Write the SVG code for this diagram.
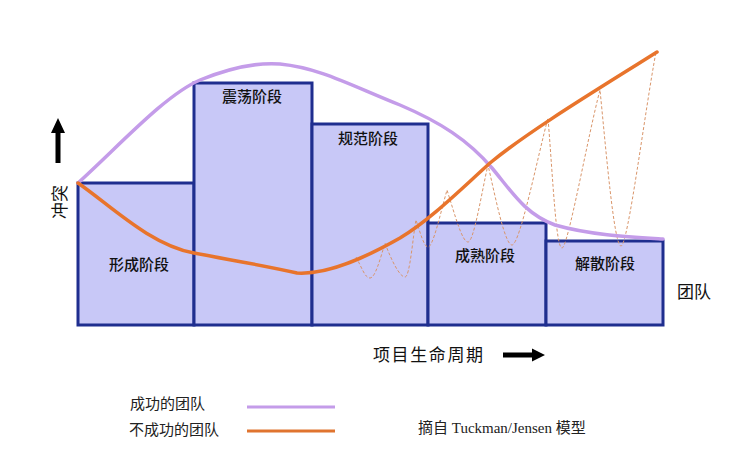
<svg xmlns="http://www.w3.org/2000/svg" width="755" height="454" viewBox="0 0 755 454">
<defs>
<style>
.stage{fill:#c8c8f7;stroke:#1f2e8f;stroke-width:3}
.lbl{font-family:"Noto Sans CJK SC","Liberation Sans",sans-serif;font-size:15px;font-weight:500;fill:#111;text-anchor:middle}
.big{font-family:"Noto Sans CJK SC","Liberation Sans",sans-serif;font-size:17px;fill:#111}
.ser{font-family:"Liberation Serif","Noto Sans CJK SC",serif;font-size:15px;fill:#222}
.ok{fill:none;stroke:#c49ce9;stroke-width:3.5;stroke-linecap:round}
.bad{fill:none;stroke:#e8742c;stroke-width:3.5;stroke-linecap:round}
.zig{fill:none;stroke:#d9956a;stroke-width:1;stroke-dasharray:3 2}
</style>
</defs>
<rect width="755" height="454" fill="#ffffff"/>
<g id="stage-forming"><rect class="stage" x="78" y="183" width="116" height="142"/><text class="lbl" x="139" y="270">形成阶段</text></g>
<g id="stage-storming"><rect class="stage" x="194" y="83" width="118" height="242"/><text class="lbl" x="252" y="102">震荡阶段</text></g>
<g id="stage-norming"><rect class="stage" x="312" y="124" width="116" height="201"/><text class="lbl" x="368" y="144">规范阶段</text></g>
<g id="stage-performing"><rect class="stage" x="428" y="223" width="118" height="102"/><text class="lbl" x="485" y="261">成熟阶段</text></g>
<g id="stage-adjourning"><rect class="stage" x="546" y="241" width="117" height="84"/><text class="lbl" x="605" y="269">解散阶段</text></g>
<g id="connectors">
<path class="zig" d="M356,257 C362,268 365,278 370,278 C375,278 380,260 385,243 C392,262 400,277 405,277 C410,277 413,235 416,220 C420,232 424,247 428,247 C433,247 440,215 447,190 C455,215 462,242 468,242 C474,242 482,190 488,165 C496,200 505,245 512,245 C520,245 538,155 548,118 C553,180 556,248 562,248 C568,248 588,135 600,90 C606,150 614,246 621,246 C628,246 645,110 656,52"/>
<path class="ok" d="M78,183 C120,145 165,95 200,80 C230,68 255,62 280,64 C320,68 350,85 400,105 C440,122 468,140 492,168 C512,192 525,214 555,225 C590,235 630,237 663,239"/>
<path class="bad" d="M78,183 C110,205 150,245 194,253 C230,260 262,265 297,273 C330,275 370,255 400,238 C430,220 460,190 490,163 C530,130 600,88 657,52"/>
<path d="M58,118 L65,133 L60.5,133 L60.5,163 L55.5,163 L55.5,133 L51,133 Z" fill="#000"/>
<path d="M545,355 L532,348.5 L532,352.5 L503,352.5 L503,357.5 L532,357.5 L532,361.5 Z" fill="#000"/>
</g>
<g id="axis-labels">
<text class="big" x="58" y="202" transform="rotate(-90 58 202)" text-anchor="middle" dominant-baseline="central">冲突</text>
<text class="big" x="677" y="298">团队</text>
<text class="big" x="373" y="361" letter-spacing="1.6">项目生命周期</text>
</g>
<g id="legend">
<text class="ser" x="130" y="409">成功的团队</text>
<line x1="247" y1="407" x2="335" y2="407" stroke="#c49ce9" stroke-width="3"/>
<text class="ser" x="129" y="435">不成功的团队</text>
<line x1="247" y1="431" x2="335" y2="431" stroke="#e0742f" stroke-width="3"/>
<text class="ser" x="418" y="433">摘自 Tuckman/Jensen 模型</text>
</g>
</svg>
